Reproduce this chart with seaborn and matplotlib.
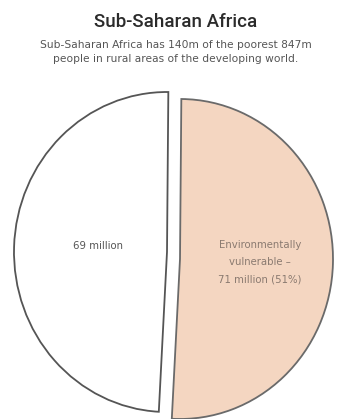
import matplotlib
matplotlib.use("Agg")
import matplotlib.pyplot as plt
import seaborn as sns

# Rural poor in Sub-Saharan Africa (millions)
categories = ["Environmentally vulnerable", "Other"]
values = [71, 69]
shares = [51, 49]
slice_colors = ["#F4D6C1", "#FFFFFF"]
slice_labels = ["Environmentally\nvulnerable \u2013\n71 million (51%)", "69 million"]

title = "Sub-Saharan Africa"
subtitle = ("Sub-Saharan Africa has 140m of the poorest 847m\n"
            "people in rural areas of the developing world.")

sns.set_theme(style="white")
plt.rcParams["font.family"] = ["DejaVu Sans Condensed", "DejaVu Sans"]

W, H, DPI = 340, 419, 100
fig = plt.figure(figsize=(W / DPI, H / DPI), dpi=DPI)
fig.patch.set_facecolor("white")
ax = fig.add_axes([0, 0, 1, 1])

# pixel -> data mapping (slightly taller than wide)
sx, sy = 153.0, 160.0
cx, cy = 172.0, 255.5

def px(x, y):
    return (x - cx) / sx, (cy - y) / sy

wedges, _ = ax.pie(values, colors=slice_colors, startangle=89.5,
                   counterclock=False, radius=1.0,
                   wedgeprops=dict(linewidth=1.3))
wedges[0].set_edgecolor("#6a6a6a")
wedges[1].set_edgecolor("#555555")
wedges[0].set_center(px(180, 259))
wedges[1].set_center(px(167, 252))

ax.set_aspect("auto")
ax.set_xlim((0 - cx) / sx, (W - cx) / sx)
ax.set_ylim((cy - H) / sy, cy / sy)
ax.axis("off")

# slice labels
x, y = px(260, 262)
ax.text(x, y, slice_labels[0], ha="center", va="center", fontsize=7.3,
        color="#8a7a70", linespacing=1.9)
x, y = px(98, 246)
ax.text(x, y, slice_labels[1], ha="center", va="center", fontsize=7.3,
        color="#555555")

# heading
hx = 176 / W
fig.text(hx, 1 - 22 / H, title, ha="center", va="center", fontsize=13.5,
         color="#2b2b2b", family=["Roboto", "DejaVu Sans"], fontweight="medium")
fig.text(hx, 1 - 52 / H, subtitle, ha="center", va="center", fontsize=7.7,
         color="#555555", linespacing=1.55)

fig.savefig("out.png", dpi=DPI, facecolor="white")
